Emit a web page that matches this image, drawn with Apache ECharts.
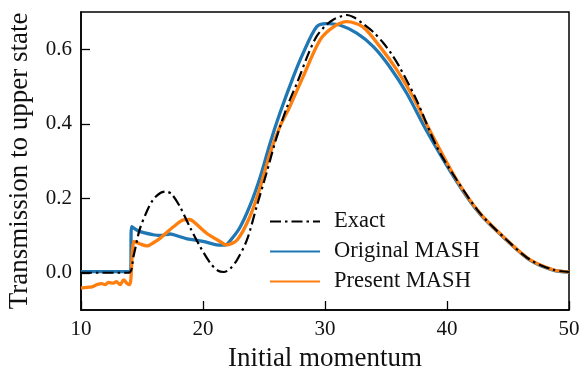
<!DOCTYPE html>
<html>
<head>
<meta charset="utf-8">
<script src="https://cdn.jsdelivr.net/npm/echarts@6/dist/echarts.min.js"></script>
<style>
html,body{margin:0;padding:0;background:#fff;}
#chart{width:582px;height:371px;}
</style>
</head>
<body>
<div id="chart"></div>
<script>
var exactX = [10, 13.9, 14.3, 14.8, 15.4, 15.9, 16.5, 16.9, 17.4, 18.1, 18.9, 19.75, 20.6, 21.2, 21.7, 22.2, 22.8, 23.6, 24.4, 25.2, 26.0, 26.9, 27.8, 28.6, 29.3, 30.0, 30.7, 31.3, 31.8, 32.4, 33.1, 34.0, 34.8, 35.5, 36.1, 37.5, 39.15, 40.8, 42.7, 44.9, 46.8, 48.7, 50];
var exactY = [0.0, 0.0, 0.044, 0.115, 0.165, 0.196, 0.214, 0.218, 0.212, 0.178, 0.124, 0.071, 0.026, 0.006, 0.002, 0.010, 0.035, 0.088, 0.178, 0.267, 0.360, 0.446, 0.517, 0.585, 0.634, 0.662, 0.680, 0.688, 0.692, 0.685, 0.669, 0.645, 0.616, 0.585, 0.553, 0.464, 0.339, 0.249, 0.160, 0.088, 0.035, 0.008, 0.002];

var origX = [10, 14.05, 14.15, 14.8, 15.9, 16.5, 17.3, 18.0, 18.7, 20.0, 21.1, 21.8, 22.2, 23.0, 23.85, 24.7, 25.5, 26.3, 27.4, 28.2, 29.3, 30.1, 31.2, 32.6, 33.96, 35.3, 36.7, 38.3, 40.8, 42.7, 44.9, 46.8, 48.7, 50];
var origY = [0.003, 0.003, 0.124, 0.111, 0.102, 0.100, 0.104, 0.098, 0.091, 0.084, 0.075, 0.074, 0.085, 0.120, 0.180, 0.258, 0.348, 0.428, 0.526, 0.589, 0.660, 0.669, 0.665, 0.643, 0.607, 0.553, 0.482, 0.383, 0.245, 0.158, 0.087, 0.034, 0.007, 0.002];

var presX = [10, 10.5, 10.9, 11.3, 11.7, 11.97, 12.24, 12.65, 12.9, 13.2, 13.5, 13.75, 14.0, 14.35, 14.8, 15.4, 16.0, 16.5, 17.6, 18.4, 18.9, 19.2, 20.3, 21.4, 21.9, 22.8, 23.85, 24.7, 25.5, 26.3, 27.1, 28.2, 29.6, 30.7, 31.8, 33.1, 34.5, 35.9, 37.2, 38.7, 40.8, 42.7, 44.9, 46.8, 48.7, 50];
var presY = [-0.041, -0.039, -0.038, -0.032, -0.029, -0.032, -0.026, -0.028, -0.024, -0.032, -0.019, -0.028, -0.032, 0.084, 0.078, 0.072, 0.082, 0.093, 0.124, 0.142, 0.143, 0.138, 0.106, 0.084, 0.075, 0.088, 0.151, 0.231, 0.321, 0.392, 0.445, 0.526, 0.625, 0.660, 0.674, 0.660, 0.607, 0.544, 0.473, 0.375, 0.249, 0.160, 0.088, 0.035, 0.008, 0.002];

var xTicks = [10, 20, 30, 40, 50];
var yTicks = [0.0, 0.2, 0.4, 0.6];
var seriesNames = ['Exact', 'Original MASH', 'Present MASH'];

function pairs(xs, ys) { return xs.map(function (x, i) { return [x, ys[i]]; }); }

var FONT = 'Liberation Serif';
var chart = echarts.init(document.getElementById('chart'), null, { renderer: 'canvas' });
chart.setOption({
  animation: false,
  backgroundColor: '#fff',
  grid: { left: 81, right: 13, top: 12, bottom: 61, show: true, borderColor: '#000', borderWidth: 1.5, backgroundColor: 'transparent', containLabel: false, outerBoundsMode: 'none' },
  legend: {
    orient: 'vertical', left: 264, top: 204,
    data: seriesNames,
    itemWidth: 50, itemHeight: 14, itemGap: 5,
    itemStyle: { opacity: 0 },
    textStyle: { fontFamily: FONT, fontSize: 22.5, color: '#111', padding: [0, 0, 0, 9], lineHeight: 25 }
  },
  xAxis: {
    type: 'value', min: 10, max: 50, interval: 10,
    name: 'Initial momentum', nameLocation: 'middle', nameGap: 35,
    nameTextStyle: { fontFamily: FONT, fontSize: 27, color: '#111' },
    axisLine: { show: true, onZero: false, lineStyle: { color: '#000', width: 1.5 } },
    axisTick: { show: true, inside: true, length: 9, lineStyle: { color: '#000', width: 1.3 } },
    axisLabel: { fontFamily: FONT, fontSize: 21, color: '#111', margin: 9, customValues: xTicks },
    splitLine: { show: false }
  },
  yAxis: {
    type: 'value', min: -0.1, max: 0.7,
    name: 'Transmission to upper state', nameLocation: 'middle', nameGap: 48,
    nameTextStyle: { fontFamily: FONT, fontSize: 27, color: '#111' },
    axisLine: { show: true, onZero: false, lineStyle: { color: '#000', width: 1.5 } },
    axisTick: { show: true, inside: true, length: 9, lineStyle: { color: '#000', width: 1.3 }, customValues: yTicks },
    axisLabel: { fontFamily: FONT, fontSize: 21, color: '#111', margin: 9, customValues: yTicks, formatter: function (v) { return v.toFixed(1); } },
    splitLine: { show: false }
  },
  series: [
    { name: 'Original MASH', type: 'line', data: pairs(origX, origY), showSymbol: false, symbol: 'none', smooth: 0.3, lineStyle: { color: '#1f77b4', width: 3.3 }, itemStyle: { color: '#1f77b4' }, z: 2 },
    { name: 'Present MASH', type: 'line', data: pairs(presX, presY), showSymbol: false, symbol: 'none', smooth: 0.3, lineStyle: { color: '#ff7f0e', width: 3.3 }, itemStyle: { color: '#ff7f0e' }, z: 3 },
    { name: 'Exact', type: 'line', data: pairs(exactX, exactY), showSymbol: false, symbol: 'none', smooth: 0.3, lineStyle: { color: '#000', width: 2.2, type: [11, 4, 2.5, 4] }, itemStyle: { color: '#000' }, z: 4 }
  ]
});
</script>
</body>
</html>
